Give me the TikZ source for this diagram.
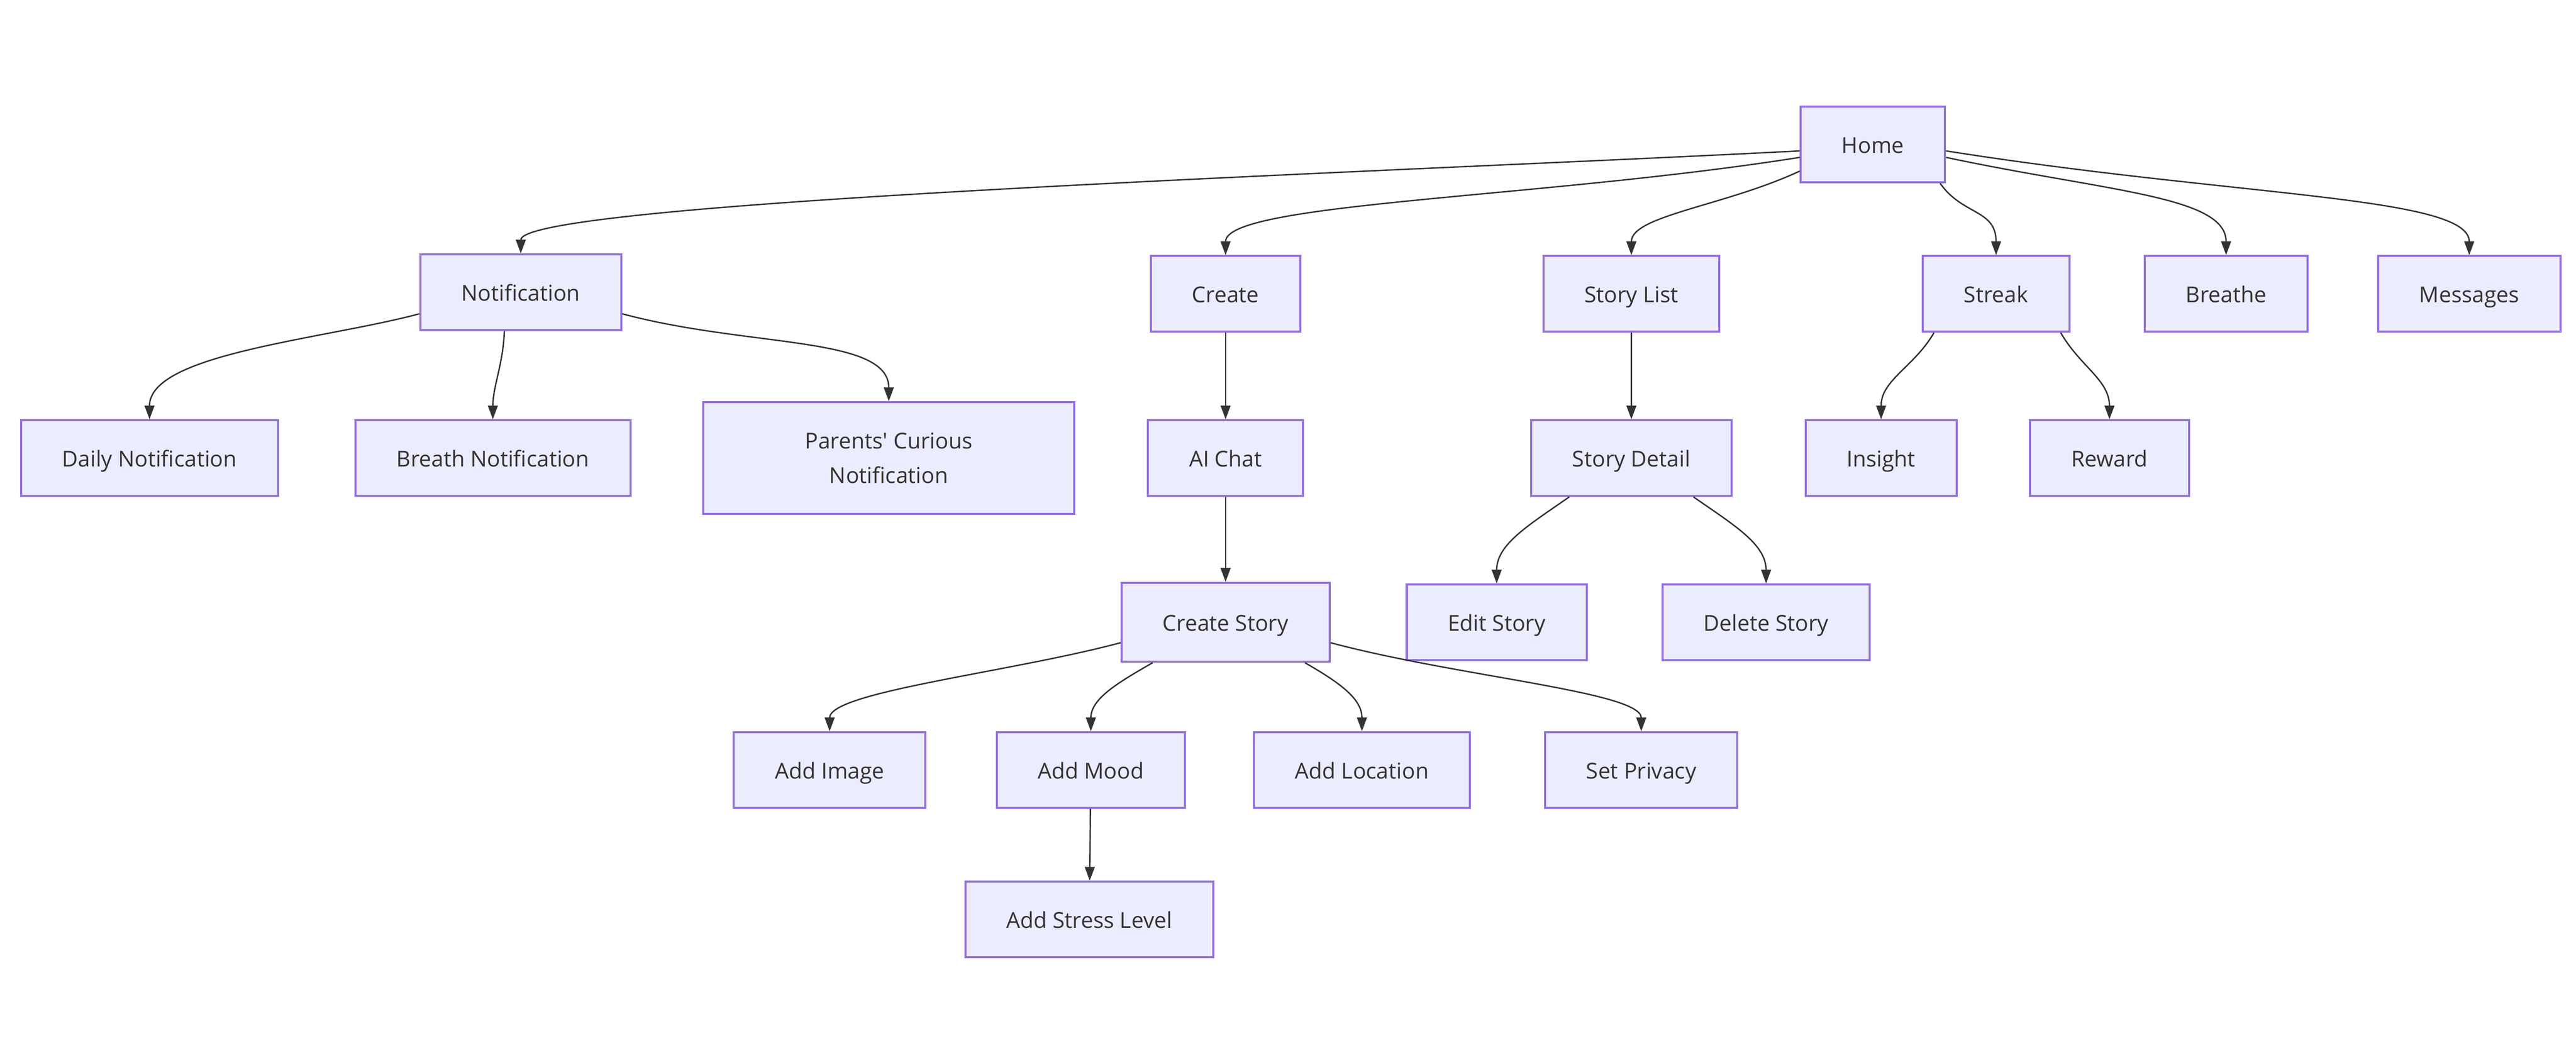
\documentclass[tikz,border=0pt]{standalone}
\usepackage{fontspec}
\setmainfont{Open Sans}
\usetikzlibrary{arrows.meta}

\definecolor{boxfill}{HTML}{ECECFF}
\definecolor{boxline}{HTML}{9370DB}
\definecolor{ink}{HTML}{333333}

\tikzset{
  screen/.style={draw=boxline, fill=boxfill, line width=1.8pt, text=ink,
    inner xsep=1.25cm, minimum height=2.3cm,
    text height=15pt, text depth=0pt,
    font=\fontsize{19}{30}\selectfont},
  link/.style={draw=ink, line width=1.2pt,
    -{Triangle[length=0.42cm,width=0.3cm]}}
}

\begin{document}
\begin{tikzpicture}[x=0.05cm,y=0.05cm]
    \useasboundingbox (0,0) rectangle (1568,-641);

    % top level
    \node[screen] (Home)    at (1140,-88)  {Home};
    \node[screen] (Notif)   at (317,-178)  {Notification};
    \node[screen] (Create)  at (746,-179)  {Create};
    \node[screen] (SList)   at (993,-179)  {Story List};
    \node[screen] (Streak)  at (1215,-179) {Streak};
    \node[screen] (Breathe) at (1355,-179) {Breathe};
    \node[screen] (Msg)     at (1503,-179) {Messages};

    % second level
    \node[screen] (Daily)   at (91,-279)   {Daily Notification};
    \node[screen] (Breath)  at (300,-279)  {Breath Notification};
    \node[screen, text height=, text depth=, minimum width=11.3cm,
          minimum height=3.4cm, align=center]
                  (Parents) at (541,-279)  {Parents\textquotesingle{} Curious\\Notification};
    \node[screen] (Chat)    at (746,-279)  {AI Chat};
    \node[screen] (SDetail) at (993,-279)  {Story Detail};
    \node[screen] (Insight) at (1145,-279) {Insight};
    \node[screen] (Reward)  at (1284,-279) {Reward};

    % third level
    \node[screen, minimum height=2.4cm] (CStory) at (746,-379) {Create Story};
    \node[screen] (Edit)    at (911,-379)  {Edit Story};
    \node[screen] (Delete)  at (1075,-379) {Delete Story};

    \node[screen] (Img)     at (505,-469)  {Add Image};
    \node[screen] (Mood)    at (664,-469)  {Add Mood};
    \node[screen] (Loc)     at (829,-469)  {Add Location};
    \node[screen] (Priv)    at (999,-469)  {Set Privacy};

    \node[screen] (Stress)  at (663,-560)  {Add Stress Level};

    % from Home
    \draw[link] (Home.185) .. controls +(183:12cm) and +(90:1.6cm) .. (Notif.north);
    \draw[link] (Home.190) .. controls +(189:8cm) and +(90:1.6cm) .. (Create.north);
    \draw[link] (Home.200) .. controls +(205:2.5cm) and +(90:1.2cm) .. (SList.north);
    \draw[link] (Home.-30) .. controls +(-55:1.2cm) and +(90:1.4cm) .. (Streak.north);
    \draw[link] (Home.-10) .. controls +(-12:5cm) and +(90:1.8cm) .. (Breathe.north);
    \draw[link] (Home.-5) .. controls +(-9:9cm) and +(90:1.8cm) .. (Msg.north);

    % notifications
    \draw[link] (Notif.192) .. controls +(195:3cm) and +(90:2cm) .. (Daily.north);
    \draw[link] ([xshift=-0.5cm]Notif.south) .. controls +(-92:1cm) and +(90:1cm) .. (Breath.north);
    \draw[link] (Notif.-12) .. controls +(-15:4cm) and +(90:2cm) .. (Parents.north);

    % create and stories
    \draw[link] (Create) -- (Chat);
    \draw[link] (Chat) -- (CStory);
    \draw[link] (SList) -- (SDetail);
    \draw[link] (Streak.-148) .. controls +(-120:1.2cm) and +(90:1.2cm) .. (Insight.north);
    \draw[link] (Streak.-31) .. controls +(-60:1.2cm) and +(90:1.2cm) .. (Reward.north);
    \draw[link] (SDetail.-148) .. controls +(-145:1.5cm) and +(90:1.2cm) .. (Edit.north);
    \draw[link] (SDetail.-32) .. controls +(-35:1.5cm) and +(90:1.2cm) .. (Delete.north);

    \draw[link] (CStory.191) .. controls +(195:3.5cm) and +(90:1.2cm) .. (Img.north);
    \draw[link] (CStory.-151) .. controls +(-150:1.2cm) and +(90:1cm) .. (Mood.north);
    \draw[link] (CStory.-27) .. controls +(-30:1.2cm) and +(90:1cm) .. (Loc.north);
    \draw[link] (CStory.-11) .. controls +(-15:4cm) and +(90:1.2cm) .. (Priv.north);
    \draw[link] (Mood) -- (Stress);
\end{tikzpicture}
\end{document}
